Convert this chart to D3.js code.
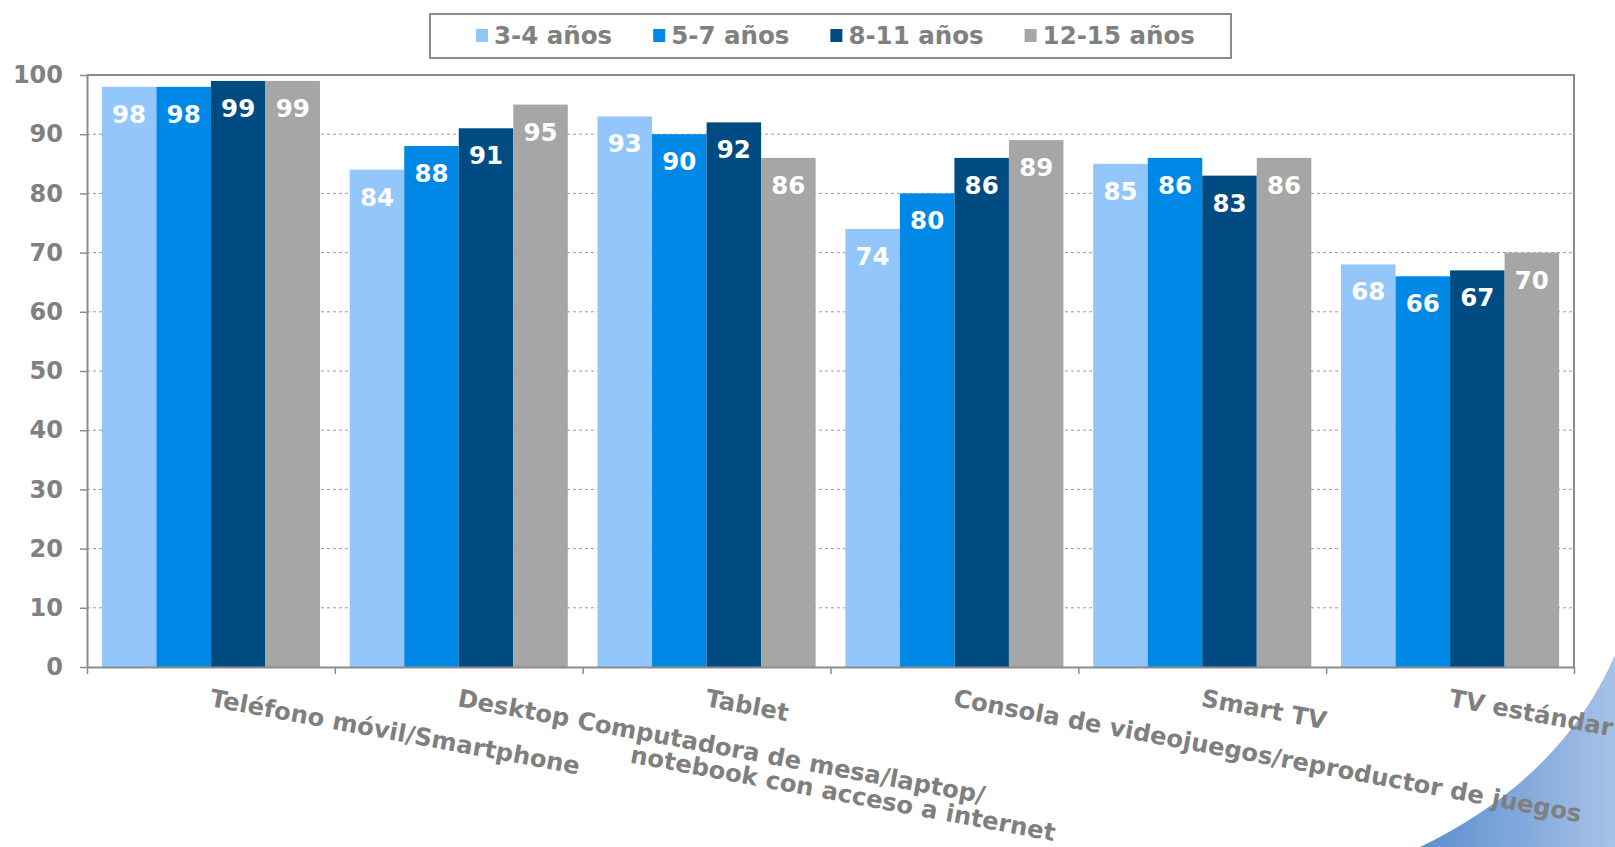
<!DOCTYPE html>
<html>
<head>
<meta charset="utf-8">
<script src="https://cdn.jsdelivr.net/npm/d3@7"></script>
<style>
  html, body { margin: 0; padding: 0; background: #ffffff; }
  svg { display: block; }
  text { font-family: "DejaVu Sans", Verdana, sans-serif; font-weight: bold; }
</style>
</head>
<body>
<svg id="chart" width="1615" height="847"></svg>
<script>
// ---- data ----
const categories = [
  ["Teléfono móvil/Smartphone"],
  ["Desktop Computadora de mesa/laptop/", "notebook con acceso a internet"],
  ["Tablet"],
  ["Consola de videojuegos/reproductor de juegos"],
  ["Smart TV"],
  ["TV estándar"]
];
const seriesNames = ["3-4 años", "5-7 años", "8-11 años", "12-15 años"];
const values_3_4   = [98, 84, 93, 74, 85, 68];
const values_5_7   = [98, 88, 90, 80, 86, 66];
const values_8_11  = [99, 91, 92, 86, 83, 67];
const values_12_15 = [99, 95, 86, 89, 86, 70];
const yTicks = [0, 10, 20, 30, 40, 50, 60, 70, 80, 90, 100];

const seriesValues = [values_3_4, values_5_7, values_8_11, values_12_15];
const colors = ["#93C6FA", "#0088E6", "#004C82", "#A6A6A6"];

// ---- layout ----
const W = 1615, H = 847;
const plot = { left: 87, right: 1574, top: 75, bottom: 667 };
const svg = d3.select("#chart");

// decorative gradient corner
const defs = svg.append("defs");
const grad = defs.append("linearGradient").attr("id", "cornerGrad")
  .attr("x1", "0%").attr("y1", "0%").attr("x2", "100%").attr("y2", "0%");
grad.append("stop").attr("offset", "0%").attr("stop-color", "#5C8ECF");
grad.append("stop").attr("offset", "100%").attr("stop-color", "#A6C2E7");
svg.append("path")
  .attr("d", `M${W},655 Q1562,778 1420,${H} L${W},${H} Z`)
  .attr("fill", "url(#cornerGrad)");

const catIdx = d3.range(categories.length);
const x0 = d3.scaleBand().domain(catIdx).range([plot.left, plot.right])
  .paddingInner(0.12).paddingOuter(0.06);
const x1 = d3.scaleBand().domain(d3.range(seriesNames.length)).range([0, x0.bandwidth()]);
const y = d3.scaleLinear().domain([0, 100]).range([plot.bottom, plot.top]);
const boundary = d3.scaleLinear().domain([0, categories.length]).range([plot.left, plot.right]);

// gridlines
svg.append("g").selectAll("line").data(yTicks.filter(t => t > 0 && t < 100)).join("line")
  .attr("x1", plot.left).attr("x2", plot.right)
  .attr("y1", d => y(d)).attr("y2", d => y(d))
  .attr("stroke", "#9a9a9a").attr("stroke-width", 1).attr("stroke-dasharray", "3,3");

// plot border (top, right)
svg.append("path")
  .attr("d", `M${plot.left},${plot.top} H${plot.right} V${plot.bottom}`)
  .attr("fill", "none").attr("stroke", "#8c8c8c").attr("stroke-width", 2);

// bars
const groups = svg.append("g").selectAll("g").data(catIdx).join("g")
  .attr("transform", i => `translate(${x0(i)},0)`);
groups.selectAll("rect")
  .data(i => seriesValues.map((s, k) => ({ k, v: s[i] })))
  .join("rect")
  .attr("x", d => x1(d.k)).attr("width", x1.bandwidth())
  .attr("y", d => y(d.v)).attr("height", d => y(0) - y(d.v))
  .attr("fill", d => colors[d.k]);
groups.selectAll("text")
  .data(i => seriesValues.map((s, k) => ({ k, v: s[i] })))
  .join("text")
  .attr("x", d => x1(d.k) + x1.bandwidth() / 2)
  .attr("y", d => y(d.v) + 36)
  .attr("text-anchor", "middle")
  .attr("font-size", 24.5)
  .attr("fill", "#ffffff")
  .text(d => d.v);

// y axis
const yAxis = svg.append("g").attr("transform", `translate(${plot.left},0)`)
  .call(d3.axisLeft(y).tickValues(yTicks).tickSize(7).tickPadding(17).tickSizeOuter(0));
yAxis.select(".domain").attr("stroke", "#8c8c8c").attr("stroke-width", 2);
yAxis.selectAll(".tick line").attr("stroke", "#8c8c8c").attr("stroke-width", 1.5);
yAxis.selectAll(".tick text")
  .attr("font-size", 24).attr("fill", "#808080")
  .attr("font-family", "DejaVu Sans, Verdana, sans-serif").attr("font-weight", "bold");

// x axis
const xAxis = svg.append("g").attr("transform", `translate(0,${plot.bottom})`)
  .call(d3.axisBottom(boundary).tickValues(d3.range(categories.length + 1))
    .tickSize(7).tickSizeOuter(0).tickFormat(""));
xAxis.select(".domain").attr("stroke", "#8c8c8c").attr("stroke-width", 2);
xAxis.selectAll(".tick line").attr("stroke", "#8c8c8c").attr("stroke-width", 1.5);

// category labels (rotated)
const catLabels = svg.append("g").selectAll("g").data(catIdx).join("g")
  .attr("transform", i => `translate(${x0(i) + x0.bandwidth() / 2 - 2},706) rotate(10.5)`);
catLabels.append("text")
  .attr("font-size", 24.3).attr("fill", "#7f7f7f")
  .each(function (i) {
    const t = d3.select(this);
    categories[i].forEach((line, j) => {
      t.append("tspan")
        .attr("x", j === 0 ? 0 : 180)
        .attr("y", j * 24)
        .text(line);
    });
  });

// legend
const legend = svg.append("g");
legend.append("rect")
  .attr("x", 430).attr("y", 14).attr("width", 801).attr("height", 44)
  .attr("fill", "#ffffff").attr("stroke", "#8c8c8c").attr("stroke-width", 2);
let lx = 476;
seriesNames.forEach((name, k) => {
  legend.append("rect").attr("x", lx).attr("y", 29).attr("width", 12).attr("height", 13)
    .attr("fill", colors[k]);
  const t = legend.append("text").attr("x", lx + 18).attr("y", 44)
    .attr("font-size", 24.5).attr("fill", "#808080").text(name);
  lx = lx + 18 + t.node().getComputedTextLength() + 41;
});
</script>
</body>
</html>
